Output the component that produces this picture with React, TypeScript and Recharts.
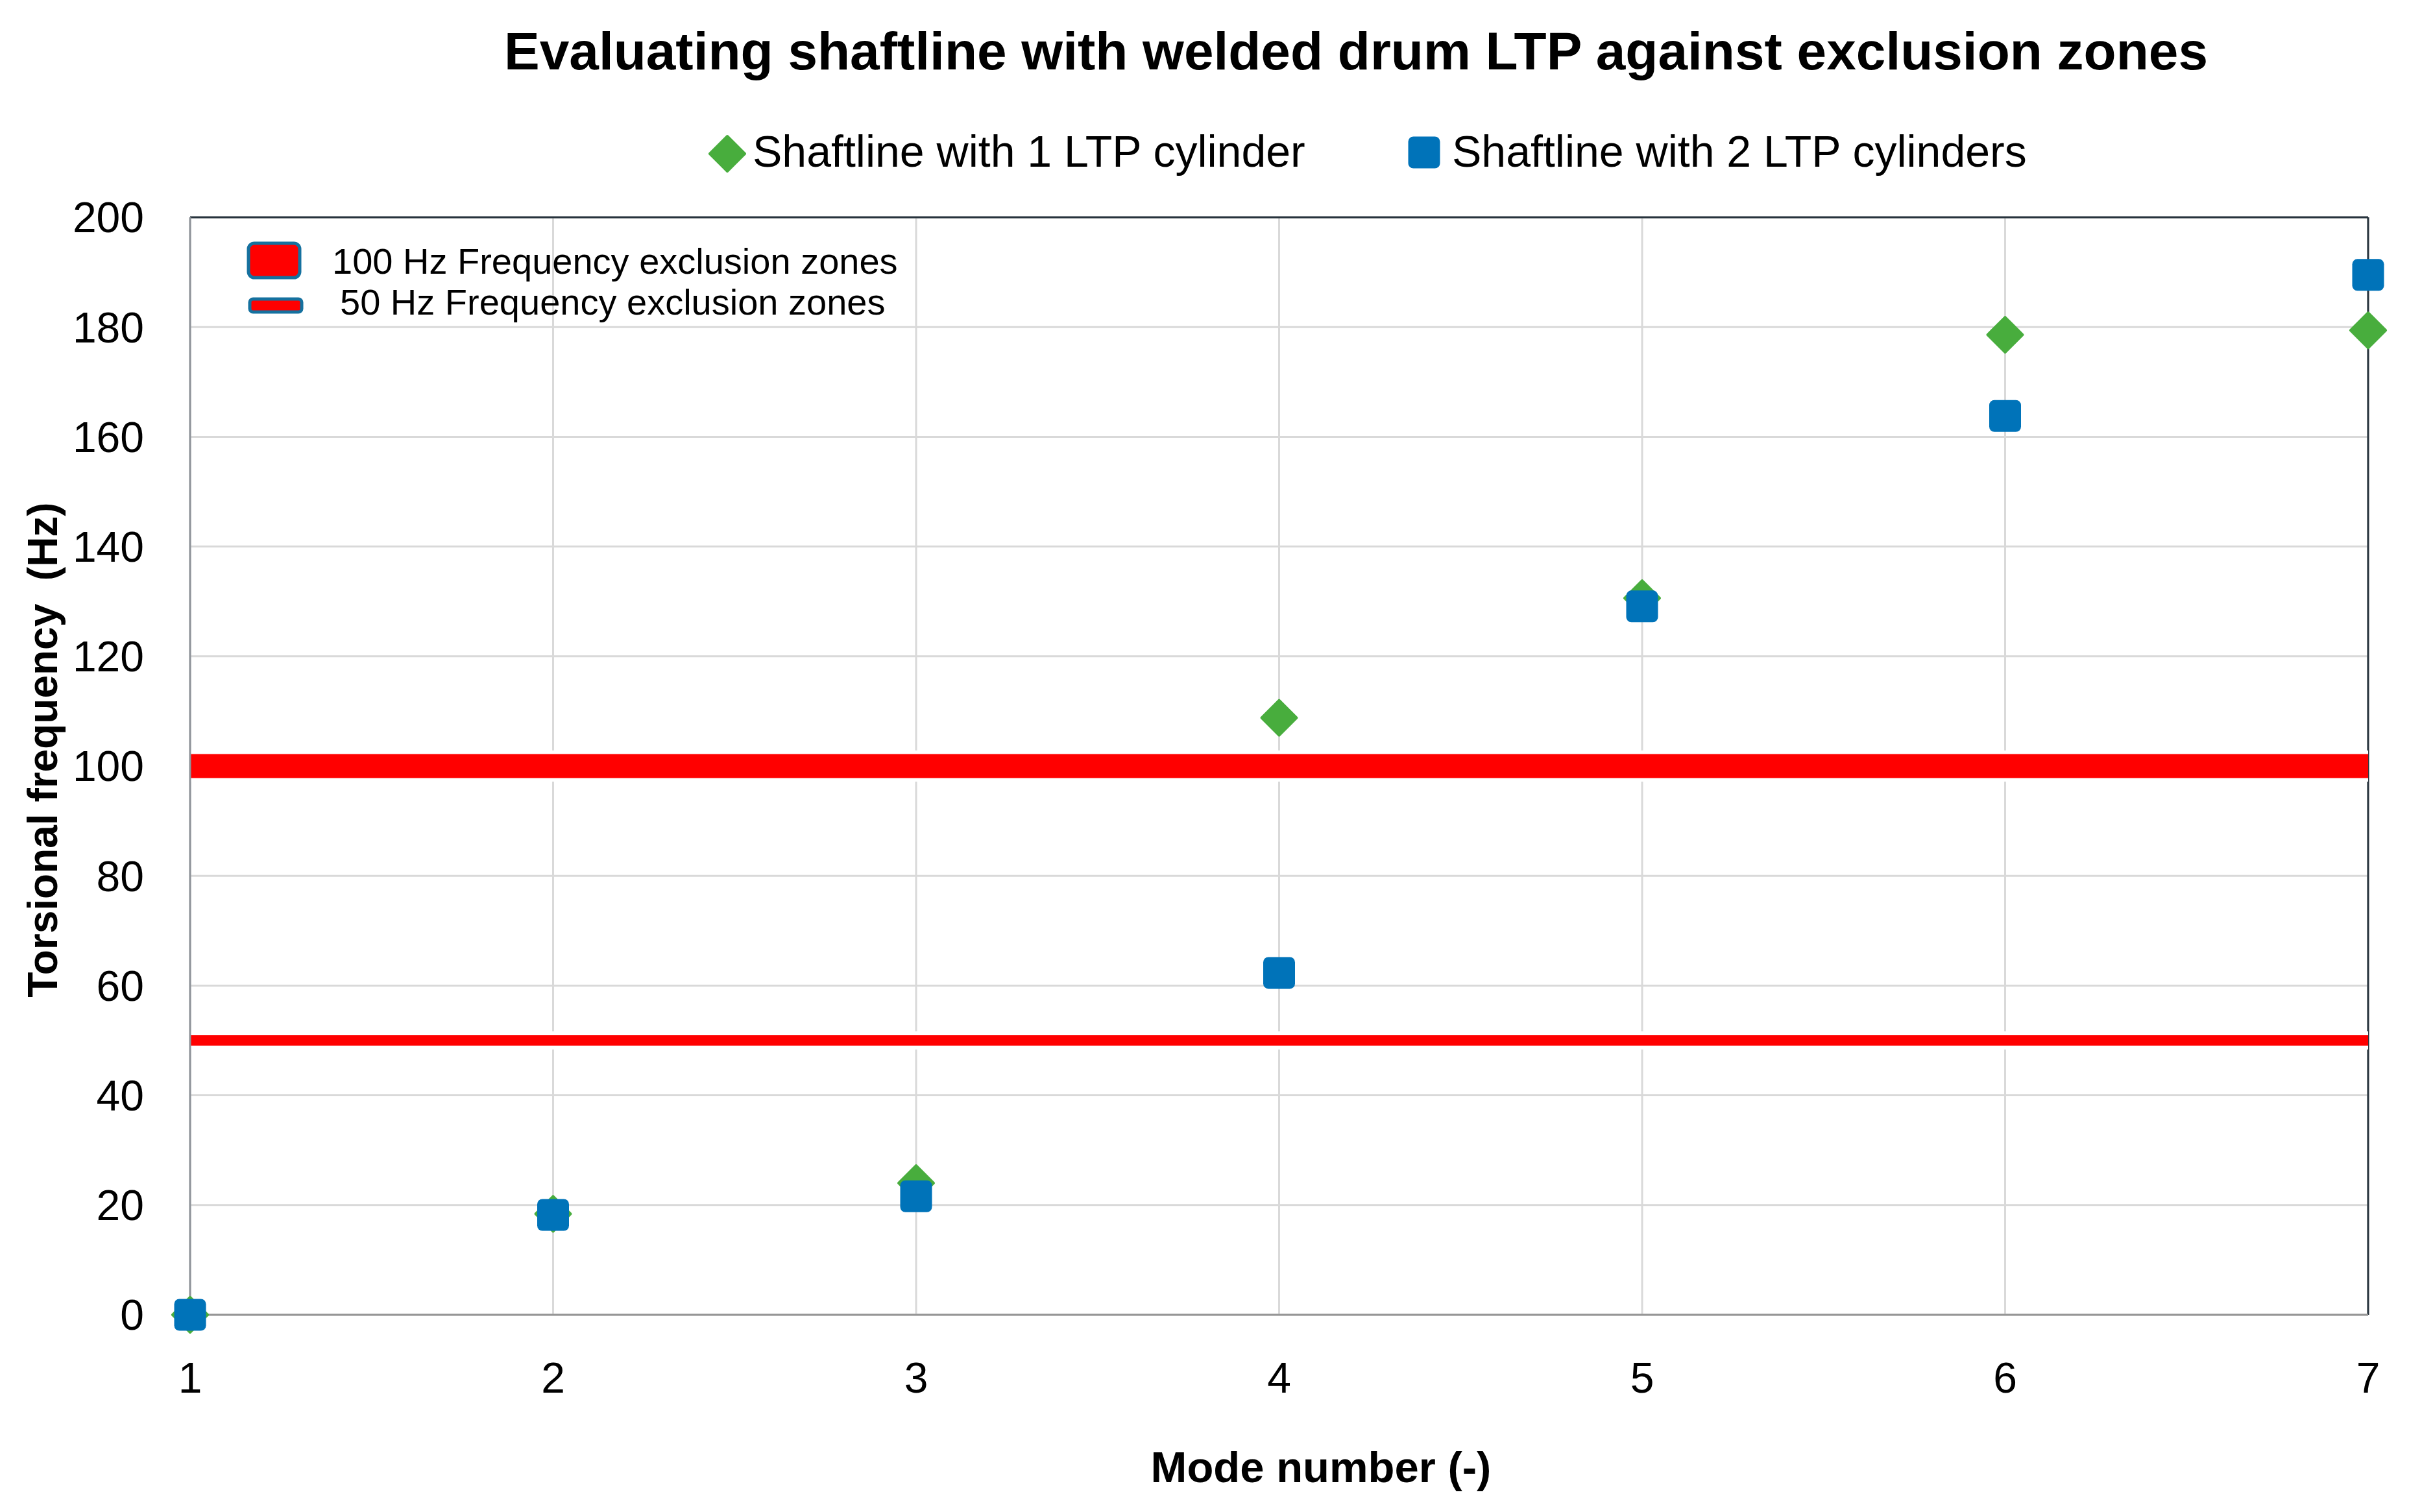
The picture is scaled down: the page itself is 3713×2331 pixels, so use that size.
import React from "react";
import {
  ScatterChart, Scatter, XAxis, YAxis, CartesianGrid, ReferenceLine, Legend,
} from "recharts";

// mode numbers and torsional frequencies (Hz)
const modes = [1, 2, 3, 4, 5, 6, 7];
const oneCylinder = [0, 18.4, 24.0, 108.8, 130.6, 178.6, 179.4];
const twoCylinders = [0, 18.2, 21.6, 62.3, 129.1, 163.8, 189.5];

const xTicks = [1, 2, 3, 4, 5, 6, 7];
const yTicks = [0, 20, 40, 60, 80, 100, 120, 140, 160, 180, 200];

const zone100 = 100;
const zone50 = 50;

const GREEN = "#48AD3D";
const BLUE = "#0073B9";
const RED = "#FF0000";
const FONT = "'Liberation Sans', Arial, sans-serif";

const W = 3713;
const H = 2331;

const data1 = modes.map((m, i) => ({ x: m, y: oneCylinder[i] }));
const data2 = modes.map((m, i) => ({ x: m, y: twoCylinders[i] }));

const Diamond = ({ cx, cy }: any) => (
  <polygon
    points={`${cx},${cy - 27} ${cx + 27},${cy} ${cx},${cy + 27} ${cx - 27},${cy}`}
    fill={GREEN} stroke={GREEN} strokeWidth={4} strokeLinejoin="round"
  />
);

const Square = ({ cx, cy }: any) => (
  <rect x={cx - 24.5} y={cy - 24.5} width={49} height={49} rx={8} fill={BLUE} />
);

const TopLegend = () => (
  <svg width={W} height={300} style={{ display: "block" }}>
    <Diamond cx={1121} cy={237} />
    <text x={1160} y={257} fontSize={68} fontFamily={FONT} fill="#000">
      Shaftline with 1 LTP cylinder
    </text>
    <Square cx={2195} cy={235} />
    <text x={2238} y={257} fontSize={68} fontFamily={FONT} fill="#000">
      Shaftline with 2 LTP cylinders
    </text>
  </svg>
);

export default function App() {
  return (
    <div style={{ position: "absolute", left: 0, top: 0, width: W, height: H, background: "#fff" }}>
      <ScatterChart
        width={W}
        height={H}
        margin={{ top: 335, right: 63, bottom: 154, left: 93 }}
      >
        <CartesianGrid stroke="#d9d9d9" strokeWidth={3} />
        <XAxis
          type="number"
          dataKey="x"
          domain={[1, 7]}
          ticks={xTicks}
          height={150}
          tickSize={0}
          tickMargin={73}
          axisLine={{ stroke: "#969696", strokeWidth: 3 }}
          tick={{ fontSize: 66, fill: "#000", fontFamily: FONT }}
          label={{
            content: () => (
              <text x={2036} y={2285} textAnchor="middle" fontSize={67} fontWeight="bold" fontFamily={FONT} fill="#000">
                Mode number (-)
              </text>
            ),
          }}
        />
        <YAxis
          type="number"
          dataKey="y"
          domain={[0, 200]}
          ticks={yTicks}
          width={200}
          tickSize={0}
          tickMargin={71}
          axisLine={{ stroke: "#8f949a", strokeWidth: 3 }}
          tick={{ fontSize: 66, fill: "#000", fontFamily: FONT }}
          label={{
            content: () => (
              <text
                transform="translate(88,1156) rotate(-90)"
                textAnchor="middle" fontSize={64} fontWeight="bold" fontFamily={FONT} fill="#000"
                style={{ whiteSpace: "pre" }}
              >
                Torsional frequency  (Hz)
              </text>
            ),
          }}
        />
        <ReferenceLine y={200} stroke="#27333d" strokeWidth={3} />
        <ReferenceLine x={7} stroke="#27333d" strokeWidth={3} />
        <ReferenceLine y={zone100} stroke="#fff" strokeWidth={48} />
        <ReferenceLine y={zone100} stroke={RED} strokeWidth={37} />
        <ReferenceLine y={zone50} stroke="#fff" strokeWidth={28} />
        <ReferenceLine y={zone50} stroke={RED} strokeWidth={16} />
        <Legend
          layout="horizontal"
          verticalAlign="middle"
          align="center"
          wrapperStyle={{ top: 0, left: 0, width: W, height: 300 }}
          content={TopLegend}
        />
        <Scatter name="Shaftline with 1 LTP cylinder" data={data1} fill={GREEN} shape={Diamond} isAnimationActive={false} />
        <Scatter name="Shaftline with 2 LTP cylinders" data={data2} fill={BLUE} shape={Square} isAnimationActive={false} />
      </ScatterChart>

      <svg width={W} height={H} style={{ position: "absolute", left: 0, top: 0, pointerEvents: "none" }}>
        <text x={2090} y={107} textAnchor="middle" fontSize={82} fontWeight="bold" fontFamily={FONT} fill="#000">
          Evaluating shaftline with welded drum LTP against exclusion zones
        </text>
        <rect x={383} y={375} width={79} height={53} rx={9} fill={RED} stroke="#15719f" strokeWidth={5} />
        <text x={512} y={422} fontSize={56} fontFamily={FONT} fill="#000">
          100 Hz Frequency exclusion zones
        </text>
        <rect x={385} y={461} width={80} height={20} rx={5} fill={RED} stroke="#15719f" strokeWidth={5} />
        <text x={524} y={485} fontSize={56} fontFamily={FONT} fill="#000">
          50 Hz Frequency exclusion zones
        </text>
      </svg>
    </div>
  );
}
